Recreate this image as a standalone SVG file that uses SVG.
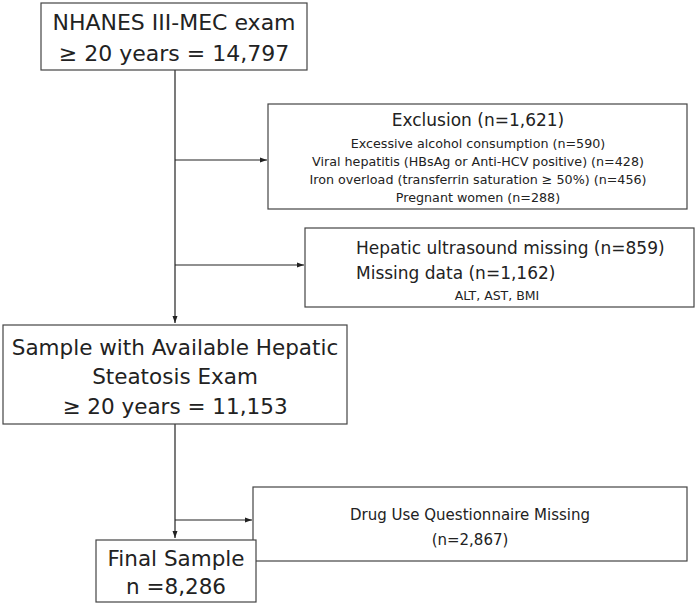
<svg xmlns="http://www.w3.org/2000/svg" width="700" height="605" viewBox="0 0 700 605">
<defs>
<style>
rect{fill:#fff;stroke:#444;stroke-width:1.2}
text{font-family:"DejaVu Sans",Verdana,sans-serif;fill:#222;text-anchor:middle}
.l{font-size:21.5px}.t{font-size:22px}.m{font-size:17px}.d{font-size:15px}.s{font-size:12.7px}.xs{font-size:12.5px}
#connectors line{stroke:#222;stroke-width:1.2}
</style>
<marker id="a" markerWidth="8" markerHeight="8" refX="7" refY="4" orient="auto" markerUnits="userSpaceOnUse"><path d="M0,1.5 L7,4 L0,6.5z" fill="#222"/></marker>
</defs>
<g id="connectors">
<line x1="175" y1="70" x2="175" y2="323" marker-end="url(#a)"/>
<line x1="175" y1="160" x2="267" y2="160" marker-end="url(#a)"/>
<line x1="175" y1="265" x2="304" y2="265" marker-end="url(#a)"/>
<line x1="175" y1="424" x2="175" y2="538" marker-end="url(#a)"/>
<line x1="175" y1="520" x2="252" y2="520" marker-end="url(#a)"/>
</g>
<g id="n1"><rect x="41" y="3" width="266" height="67"/>
<text class="t" x="174" y="30">NHANES III-MEC exam</text>
<text class="t" x="174" y="61">≥ 20 years = 14,797</text></g>
<g id="n2"><rect x="268" y="104" width="419" height="105"/>
<text class="m" x="478" y="126">Exclusion (n=1,621)</text>
<text class="s" x="478" y="148">Excessive alcohol consumption (n=590)</text>
<text class="s" x="478" y="166">Viral hepatitis (HBsAg or Anti-HCV positive) (n=428)</text>
<text class="s" x="478" y="184">Iron overload (transferrin saturation ≥ 50%) (n=456)</text>
<text class="s" x="478" y="202">Pregnant women (n=288)</text></g>
<g id="n3"><rect x="305" y="228" width="389" height="79"/>
<text class="m" x="356" y="254" style="text-anchor:start">Hepatic ultrasound missing (n=859)</text>
<text class="m" x="356" y="279" style="text-anchor:start">Missing data (n=1,162)</text>
<text class="xs" x="497" y="300">ALT, AST, BMI</text></g>
<g id="n4"><rect x="3" y="325" width="344" height="99"/>
<text class="l" x="175" y="355">Sample with Available Hepatic</text>
<text class="l" x="175" y="384">Steatosis Exam</text>
<text class="l" x="175" y="414">≥ 20 years = 11,153</text></g>
<g id="n5"><rect x="253" y="487" width="434" height="74"/>
<text class="d" x="470" y="520">Drug Use Questionnaire Missing</text>
<text class="d" x="470" y="545">(n=2,867)</text></g>
<g id="n6"><rect x="96" y="540" width="160" height="62"/>
<text class="l" x="176" y="566">Final Sample</text>
<text class="l" x="176" y="594">n =8,286</text></g>
</svg>
